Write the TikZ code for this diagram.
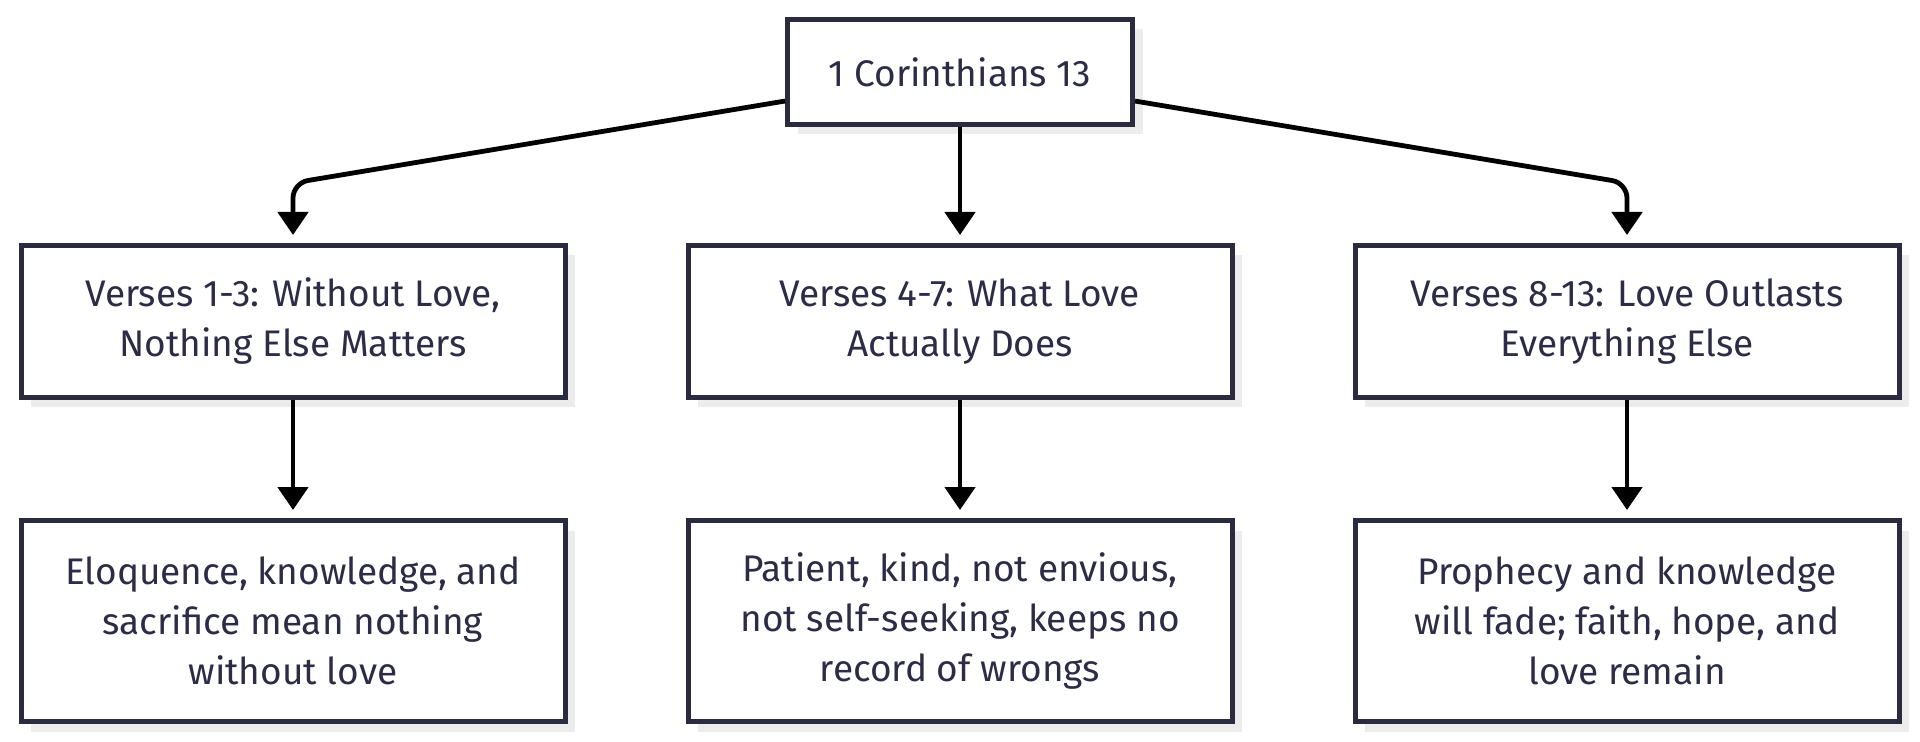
\documentclass[tikz,border=0pt]{standalone}
\usepackage{fontspec}
\setmainfont{Fira Sans}
\usetikzlibrary{positioning,shadows,arrows.meta}
\definecolor{boxline}{RGB}{43,43,64}
\definecolor{boxtext}{RGB}{44,44,70}
\definecolor{boxshade}{RGB}{236,236,236}

\begin{document}
\begin{tikzpicture}[
    box/.style={draw=boxline, line width=2.5pt, fill=white, text=boxtext,
      align=center, font=\fontsize{18.5}{25}\selectfont,
      drop shadow={shadow xshift=5pt, shadow yshift=-5pt, fill=boxshade, opacity=1}},
    sect/.style={box, minimum width=272pt, minimum height=76pt},
    note/.style={box, minimum width=272pt, minimum height=100.5pt},
    link/.style={line width=2.4pt, -{Triangle[width=15pt,length=11.5pt]}, shorten >=4pt, rounded corners=7.5pt},
    node distance=59pt
  ]
  \useasboundingbox (0,0) rectangle (960pt,-371pt);
    \node [box, minimum width=172.5pt, minimum height=52.5pt] (ch) at (480pt,-36pt) {1 Corinthians 13};
    \node [sect, below=58pt of ch] (v4) {Verses 4-7: What Love\\Actually Does};
    \node [sect, left=of v4] (v1) {Verses 1-3: Without Love,\\Nothing Else Matters};
    \node [sect, right=of v4] (v8) {Verses 8-13: Love Outlasts\\Everything Else};
    \node [note, below=of v1] (n1) {Eloquence, knowledge, and\\sacrifice mean nothing\\without love};
    \node [note, below=of v4] (n4) {Patient, kind, not envious,\\not self-seeking, keeps no\\record of wrongs};
    \node [note, below=of v8] (n8) {Prophecy and knowledge\\will fade; faith, hope, and\\love remain};
    \path (v1.north) ++(0,30pt) coordinate (bend1);
    \path (v8.north) ++(0,30pt) coordinate (bend8);

    \draw [link] (ch) -- (bend1) -- (v1);
    \draw [link] (ch) -- (v4);
    \draw [link] (ch) -- (bend8) -- (v8);
    \draw [link] (v1) -- (n1);
    \draw [link] (v4) -- (n4);
    \draw [link] (v8) -- (n8);
\end{tikzpicture}
\end{document}
